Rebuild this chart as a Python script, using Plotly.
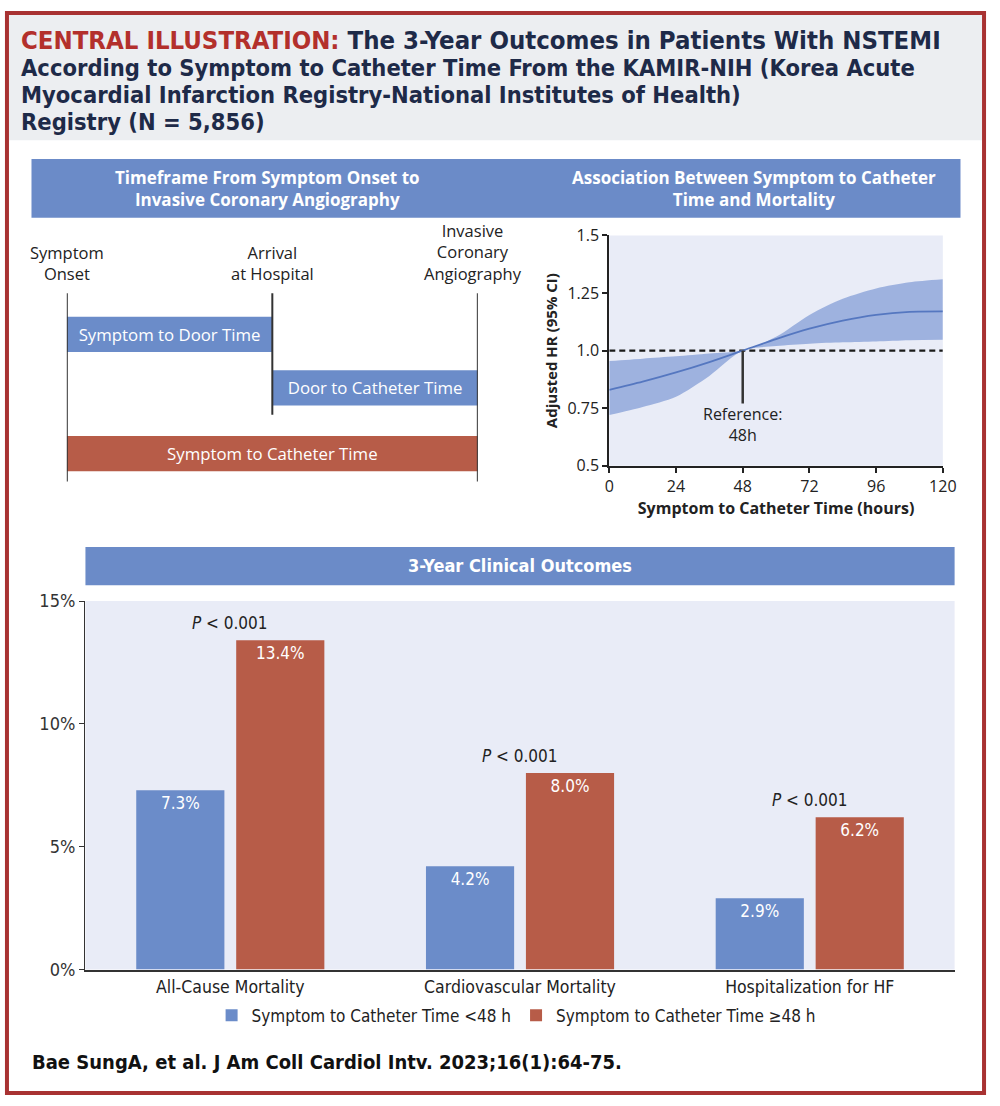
import plotly.graph_objects as go

W, H = 1000, 1106

# ---------------- data ----------------
hours = [0, 12, 24, 36, 48, 60, 72, 84, 96, 108, 120]
hr = [0.83, 0.865, 0.905, 0.95, 1.0, 1.05, 1.095, 1.13, 1.155, 1.168, 1.17]
hr_upper = [0.955, 0.965, 0.975, 0.987, 1.0, 1.06, 1.155, 1.225, 1.27, 1.297, 1.31]
hr_lower = [0.72, 0.755, 0.80, 0.89, 1.0, 1.02, 1.03, 1.036, 1.04, 1.045, 1.047]
ref_hour = 48
ref_hr = 1.0
hr_ticks = [0.5, 0.75, 1.0, 1.25, 1.5]
hr_tick_labels = ["0.5", "0.75", "1.0", "1.25", "1.5"]
hour_ticks = [0, 24, 48, 72, 96, 120]

outcomes = ["All-Cause Mortality", "Cardiovascular Mortality", "Hospitalization for HF"]
early = [7.3, 4.2, 2.9]
late = [13.4, 8.0, 6.2]
p_values = ["< 0.001", "< 0.001", "< 0.001"]
pct_ticks = [0, 5, 10, 15]
pct_tick_labels = ["0%", "5%", "10%", "15%"]

events = ["Symptom<br>Onset", "Arrival<br>at Hospital", "Invasive<br>Coronary<br>Angiography"]
event_pos = [0, 1, 2]
segments = ["Symptom to Door Time", "Door to Catheter Time", "Symptom to Catheter Time"]
seg_start = [0, 1, 0]
seg_end = [1, 2, 2]

# ---------------- style ----------------
COND = "Liberation Sans Narrow, DejaVu Sans Condensed, Roboto Condensed, Arial Narrow, sans-serif"
SANS = "Open Sans, Noto Sans, DejaVu Sans, sans-serif"
BAND = "#6b8bc8"
BLUE = "#6b8cc9"
RED = "#b75c48"
PLOTBG = "#e9ecf7"
NAVY = "#1e2a48"
TITLERED = "#b3302c"
BORDER = "#a83232"
DARK = "#222222"


def px(x):
    return x / W


def py(y):
    return 1 - y / H


# timeline layout (pixel-based axis)
lane_px = [330, 384.5, 451.5]
lane_h = 36
line_top = 288
line_bottom = [480, 412, 480]

fig = go.Figure()

# ---- Timeline (x3/y3) ----
fig.add_trace(go.Bar(
    orientation="h",
    y=lane_px,
    x=[e - s for s, e in zip(seg_start, seg_end)],
    base=seg_start,
    width=lane_h,
    marker=dict(color=[BLUE, BLUE, RED], line=dict(width=0)),
    text=segments,
    textposition="inside",
    insidetextanchor="middle",
    textangle=0,
    constraintext="none",
    textfont=dict(family=SANS, size=16.8, color="white"),
    xaxis="x3", yaxis="y3", showlegend=False, hoverinfo="skip",
))
lx, ly = [], []
for p, b in zip(event_pos, line_bottom):
    lx += [p, p, None]
    ly += [line_top, b, None]
fig.add_trace(go.Scatter(
    x=lx, y=ly, mode="lines", line=dict(color="#333333", width=2),
    xaxis="x3", yaxis="y3", showlegend=False, hoverinfo="skip",
))

# ---- HR curve (x/y) ----
fig.add_trace(go.Scatter(
    x=hours, y=hr_upper, mode="lines", line=dict(width=0, shape="spline", smoothing=0.8),
    showlegend=False, hoverinfo="skip", xaxis="x", yaxis="y",
))
fig.add_trace(go.Scatter(
    x=hours, y=hr_lower, mode="lines", line=dict(width=0, shape="spline", smoothing=0.8),
    fill="tonexty", fillcolor="rgba(112,142,208,0.62)",
    showlegend=False, hoverinfo="skip", xaxis="x", yaxis="y",
))
fig.add_trace(go.Scatter(
    x=[hours[0], hours[-1]], y=[ref_hr, ref_hr], mode="lines",
    line=dict(color="#1a1a1a", width=2.2, dash="6px,4px"),
    showlegend=False, hoverinfo="skip", xaxis="x", yaxis="y",
))
fig.add_trace(go.Scatter(
    x=hours, y=hr, mode="lines", line=dict(color="#5577c0", width=1.8, shape="spline", smoothing=0.8),
    showlegend=False, hoverinfo="skip", xaxis="x", yaxis="y",
))
fig.add_trace(go.Scatter(
    x=[ref_hour, ref_hour], y=[ref_hr, 0.77], mode="lines",
    line=dict(color="#333333", width=2.5),
    showlegend=False, hoverinfo="skip", xaxis="x", yaxis="y",
))

# ---- Bar chart (x2/y2) ----
fig.add_trace(go.Bar(
    x=outcomes, y=early, name="Symptom to Catheter Time <48 h",
    marker=dict(color=BLUE, line=dict(width=0)),
    texttemplate="%{y:.1f}%", textposition="inside", insidetextanchor="end",
    textangle=0, constraintext="none",
    textfont=dict(family=COND, size=17, color="white"),
    xaxis="x2", yaxis="y2", hoverinfo="skip",
))
fig.add_trace(go.Bar(
    x=outcomes, y=late, name="Symptom to Catheter Time ≥48 h",
    marker=dict(color=RED, line=dict(width=0)),
    texttemplate="%{y:.1f}%", textposition="inside", insidetextanchor="end",
    textangle=0, constraintext="none",
    textfont=dict(family=COND, size=17, color="white"),
    xaxis="x2", yaxis="y2", hoverinfo="skip",
))

annotations = []
# title
title_lines = [
    f"<span style='color:{TITLERED}'>CENTRAL ILLUSTRATION:</span> The 3-Year Outcomes in Patients With NSTEMI",
    "According to Symptom to Catheter Time From the KAMIR-NIH (Korea Acute",
    "Myocardial Infarction Registry-National Institutes of Health)",
    "Registry (N = 5,856)",
]
title_sizes = [25.5, 23.5, 23.5, 23.5]
for i, (t, s) in enumerate(zip(title_lines, title_sizes)):
    annotations.append(dict(
        text=f"<b>{t}</b>", x=px(14), y=py(30 + 27.7 * i), xref="paper", yref="paper",
        xanchor="left", yanchor="middle", showarrow=False,
        font=dict(family=COND, size=s, color=NAVY),
    ))
# band headers
annotations.append(dict(
    text="<b>Timeframe From Symptom Onset to<br>Invasive Coronary Angiography</b>",
    x=px(268), y=py(181), xref="paper", yref="paper", showarrow=False,
    xanchor="center", yanchor="middle",
    font=dict(family=SANS, size=17, color="white"), align="center",
))
annotations.append(dict(
    text="<b>Association Between Symptom to Catheter<br>Time and Mortality</b>",
    x=px(764), y=py(181), xref="paper", yref="paper", showarrow=False,
    xanchor="center", yanchor="middle",
    font=dict(family=SANS, size=17, color="white"), align="center",
))
annotations.append(dict(
    text="<b>3-Year Clinical Outcomes</b>",
    x=px(525), y=py(566), xref="paper", yref="paper", showarrow=False,
    xanchor="center", yanchor="middle",
    font=dict(family=COND, size=18, color="white"),
))
# timeline events
for lab, p in zip(events, event_pos):
    annotations.append(dict(
        text=lab, x=p, y=line_top - 6, xref="x3", yref="y3", xanchor="center", yanchor="bottom",
        xshift=-5 if p == 2 else 0, showarrow=False, align="center",
        font=dict(family=SANS, size=16.5, color=DARK),
    ))
# reference label
annotations.append(dict(
    text="Reference:<br>48h", x=ref_hour, y=0.782, xref="x", yref="y",
    xanchor="center", yanchor="top",
    showarrow=False, align="center", font=dict(family=SANS, size=16, color=DARK),
))
# p values
for o, v, p in zip(outcomes, late, p_values):
    annotations.append(dict(
        text=f"<i>P</i> {p}", x=o, y=v, xref="x2", yref="y2", xanchor="center",
        yanchor="bottom", yshift=5,
        showarrow=False, font=dict(family=COND, size=17, color=DARK),
    ))
# footer
annotations.append(dict(
    text="<b>Bae SungA, et al. J Am Coll Cardiol Intv. 2023;16(1):64-75.</b>",
    x=px(25), y=py(1072), xref="paper", yref="paper", xanchor="left", yanchor="middle",
    showarrow=False, font=dict(family=COND, size=20, color="#111111"),
))

shapes = [
    # title background
    dict(type="rect", xref="paper", yref="paper", x0=px(3), x1=px(997), y0=py(132), y1=py(3),
         fillcolor="#eceef1", line=dict(width=0), layer="below"),
    # top band
    dict(type="rect", xref="paper", yref="paper", x0=px(27), x1=px(974), y0=py(211), y1=py(151),
         fillcolor=BAND, line=dict(width=0), layer="below"),
    # bar chart band
    dict(type="rect", xref="paper", yref="paper", x0=px(82), x1=px(968), y0=py(586), y1=py(547),
         fillcolor=BAND, line=dict(width=0), layer="below"),
    # plot backgrounds
    dict(type="rect", xref="x domain", yref="y domain", x0=0, x1=1, y0=0, y1=1,
         fillcolor=PLOTBG, line=dict(width=0), layer="below"),
    dict(type="rect", xref="x2 domain", yref="y2 domain", x0=0, x1=1, y0=0, y1=1,
         fillcolor=PLOTBG, line=dict(width=0), layer="below"),
    # border
    dict(type="rect", xref="paper", yref="paper", x0=px(2), x1=px(998), y0=py(1104), y1=py(2),
         fillcolor="rgba(0,0,0,0)", line=dict(color=BORDER, width=4), layer="above"),
]

fig.update_layout(
    width=W, height=H,
    margin=dict(l=0, r=0, t=0, b=0),
    paper_bgcolor="white", plot_bgcolor="rgba(0,0,0,0)",
    barmode="group", bargap=0.31, bargroupgap=0.118,
    annotations=annotations, shapes=shapes,
    showlegend=True,
    legend=dict(orientation="h", x=px(521), y=py(1025), xanchor="center", yanchor="middle",
                font=dict(family=COND, size=17, color=DARK), itemwidth=30,
                bgcolor="rgba(0,0,0,0)", traceorder="normal"),
    # HR chart
    xaxis=dict(domain=[px(616), px(956)], range=[0, 120], tickvals=hour_ticks,
               showline=True, linecolor="#222", linewidth=2, ticks="outside", ticklen=5,
               tickcolor="#222", tickwidth=2, showgrid=False, zeroline=False,
               tickfont=dict(family=SANS, size=16, color=DARK),
               title=dict(text="<b>Symptom to Catheter Time (hours)</b>", standoff=4,
                          font=dict(family=SANS, size=16, color=DARK)),
               anchor="y", fixedrange=True),
    yaxis=dict(domain=[py(464), py(229)], range=[0.5, 1.5], tickvals=hr_ticks, ticktext=hr_tick_labels,
               showline=True, linecolor="#222", linewidth=2, ticks="outside", ticklen=5,
               tickcolor="#222", tickwidth=2, showgrid=False, zeroline=False,
               tickfont=dict(family=SANS, size=16, color=DARK),
               title=dict(text="<b>Adjusted HR (95% CI)</b>", standoff=6,
                          font=dict(family=SANS, size=15, color=DARK)),
               anchor="x", fixedrange=True),
    # Bar chart
    xaxis2=dict(domain=[px(82), px(968)], showline=True, linecolor="#333", linewidth=2.5,
                ticks="", showgrid=False, zeroline=False,
                tickfont=dict(family=COND, size=17.5, color=DARK), anchor="y2", fixedrange=True),
    yaxis2=dict(domain=[py(978), py(602)], range=[0, 15], tickvals=pct_ticks, ticktext=pct_tick_labels,
                showline=True, linecolor="#333", linewidth=1.5, ticks="outside", ticklen=5,
                tickcolor="#333", showgrid=False, zeroline=False,
                tickfont=dict(family=COND, size=18, color="#333"), anchor="x2", fixedrange=True),
    # Timeline
    xaxis3=dict(domain=[px(63), px(482)], range=[0, 2], visible=False, anchor="y3", fixedrange=True),
    yaxis3=dict(domain=[py(490), py(280)], range=[490, 280], visible=False, anchor="x3", fixedrange=True),
)

fig.write_html(
    "out.html",
    config={"displayModeBar": False, "staticPlot": True},
    post_script=(
        "document.body.style.margin='0';"
        "document.body.style.overflow='hidden';"
        "document.documentElement.style.overflow='hidden';"
    ),
)
